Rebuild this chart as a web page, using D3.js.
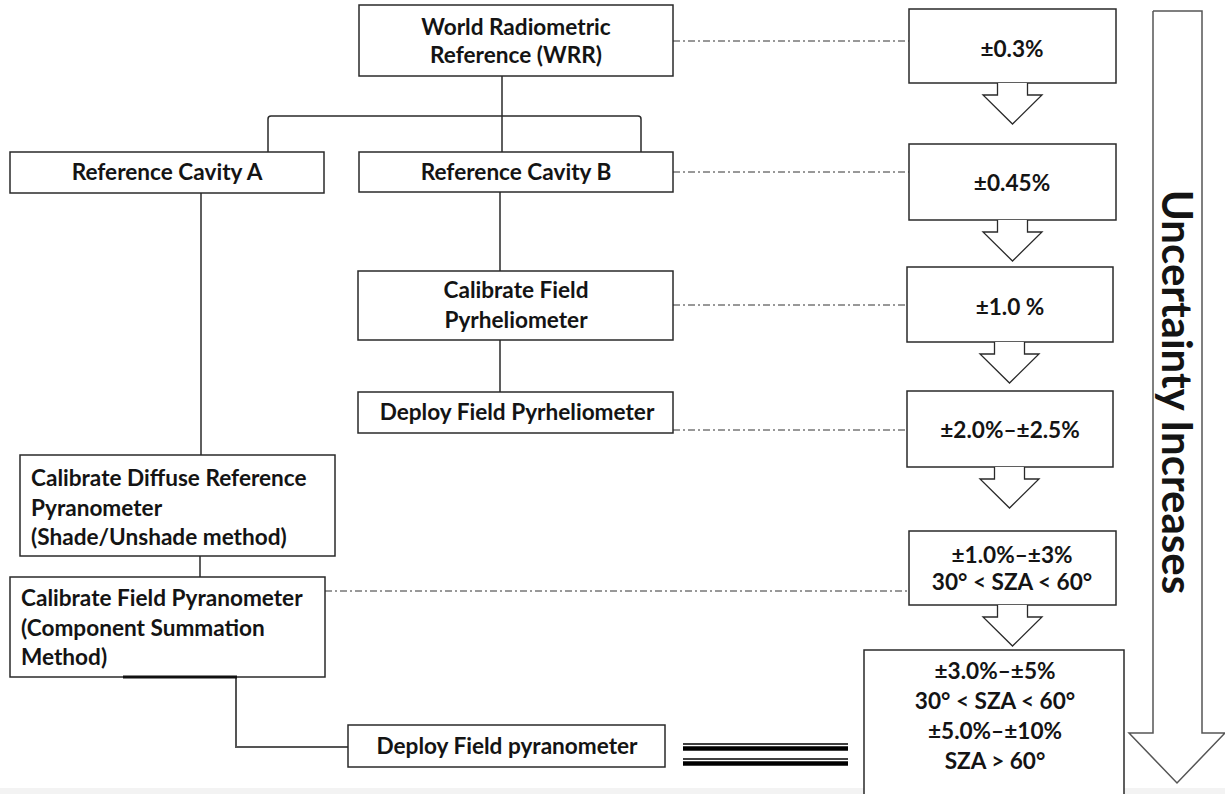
<!DOCTYPE html>
<html>
<head>
<meta charset="utf-8">
<script src="https://cdn.jsdelivr.net/npm/d3@7"></script>
<style>
  html, body { margin: 0; padding: 0; background: #fff; }
  svg { display: block; }
  text { font-family: Lato, "Open Sans", sans-serif; font-weight: 700; fill: #141414; }
</style>
</head>
<body>
<svg id="chart" width="1225" height="794"></svg>
<script>
// ---------- content ----------
const nodeLabels = [
  ["World Radiometric", "Reference (WRR)"],
  ["Reference Cavity A"],
  ["Reference Cavity B"],
  ["Calibrate Field", "Pyrheliometer"],
  ["Deploy Field Pyrheliometer"],
  ["Calibrate Diffuse Reference", "Pyranometer", "(Shade/Unshade method)"],
  ["Calibrate Field Pyranometer", "(Component Summation", "Method)"],
  ["Deploy Field pyranometer"]
];
const uncertaintyLabels = [
  ["±0.3%"],
  ["±0.45%"],
  ["±1.0 %"],
  ["±2.0%–±2.5%"],
  ["±1.0%–±3%", "30° < SZA < 60°"],
  ["±3.0%–±5%", "30° < SZA < 60°", "±5.0%–±10%", "SZA > 60°"]
];
const sideLabel = "Uncertainty Increases";
// which flow step links (dash-dot) to which uncertainty box
const links = [[0, 0], [2, 1], [3, 2], [4, 3], [6, 4]];

// ---------- layout ----------
const nodeBoxes = [
  {x: 359, y: 5,   w: 314, h: 71,  tx: 516, ty: 27,  lh: 28, anchor: "middle"},
  {x: 10,  y: 152, w: 314, h: 41,  tx: 167, ty: 172, lh: 28, anchor: "middle"},
  {x: 359, y: 152, w: 314, h: 40,  tx: 516, ty: 172, lh: 28, anchor: "middle"},
  {x: 358, y: 271, w: 315, h: 69,  tx: 516, ty: 290, lh: 30, anchor: "middle"},
  {x: 358, y: 392, w: 315, h: 41,  tx: 517, ty: 412, lh: 28, anchor: "middle"},
  {x: 20,  y: 455, w: 315, h: 101, tx: 31,  ty: 478, lh: 29.5, anchor: "start"},
  {x: 10,  y: 577, w: 315, h: 100, tx: 21,  ty: 598, lh: 29.5, anchor: "start"},
  {x: 348, y: 725, w: 317, h: 42,  tx: 507, ty: 746, lh: 28, anchor: "middle"}
];
const uncBoxes = [
  {x: 909, y: 9,   w: 207, h: 74,  tx: 1012, ty: 49,  lh: 28},
  {x: 909, y: 144, w: 207, h: 76,  tx: 1012, ty: 183, lh: 28},
  {x: 907, y: 267, w: 206, h: 75,  tx: 1010, ty: 307, lh: 28},
  {x: 907, y: 391, w: 206, h: 76,  tx: 1010, ty: 430, lh: 28},
  {x: 909, y: 531, w: 207, h: 74,  tx: 1012, ty: 555, lh: 27},
  {x: 864, y: 650, w: 260, h: 160, tx: 995,  ty: 671, lh: 30}
];
const dashY = [41, 172, 305, 430, 591];
const fontSize = 22.6;

const svg = d3.select("#chart");
const stroke = "#2a2a2a";

// light band at bottom of picture
svg.append("rect").attr("x", 0).attr("y", 788).attr("width", 1225).attr("height", 6).attr("fill", "#f3f3f3");

// ---------- connectors ----------
const conn = svg.append("g").attr("fill", "none").attr("stroke", stroke).attr("stroke-width", 1.5);
const b = nodeBoxes;
// WRR down to branch
conn.append("path").attr("d", d3.line()([[502, b[0].y + b[0].h], [502, b[2].y]]));
// branch to A and B (rounded corners)
conn.append("path").attr("d",
  `M268,${b[1].y} L268,119 Q268,116 271,116 L638,116 Q641,116 641,119 L641,${b[2].y}`);
// A down to diffuse
conn.append("path").attr("d", d3.line()([[201, b[1].y + b[1].h], [201, b[5].y]]));
// B down to calibrate pyrheliometer
conn.append("path").attr("d", d3.line()([[500, b[2].y + b[2].h], [500, b[3].y]]));
// calibrate -> deploy pyrheliometer
conn.append("path").attr("d", d3.line()([[500, b[3].y + b[3].h], [500, b[4].y]]));
// diffuse -> field pyranometer
conn.append("path").attr("d", d3.line()([[200, b[5].y + b[5].h], [200, b[6].y]]));
// field pyranometer -> deploy pyranometer
conn.append("path").attr("stroke", "#555").attr("stroke-width", 2)
  .attr("d", d3.line()([[236, b[6].y + b[6].h], [236, 747], [b[7].x, 747]]));

// dash-dot links
const dash = svg.append("g").attr("stroke", "#333").attr("stroke-width", 1).attr("stroke-dasharray", "7,3,2,3");
links.forEach(([n, u], i) => {
  dash.append("line")
    .attr("x1", b[n].x + b[n].w).attr("x2", uncBoxes[u].x)
    .attr("y1", dashY[i]).attr("y2", dashY[i]);
});

// ---------- boxes ----------
function drawBox(g, d, labels, anchor) {
  g.append("rect").attr("x", d.x).attr("y", d.y).attr("width", d.w).attr("height", d.h)
    .attr("fill", "#fff").attr("stroke", stroke).attr("stroke-width", 1.5);
  const t = g.append("text").attr("font-size", fontSize).attr("text-anchor", anchor);
  labels.forEach((s, i) => {
    t.append("tspan").attr("x", d.tx).attr("y", d.ty + i * d.lh).attr("dy", "0.36em").text(s);
  });
}
const nodesG = svg.append("g");
nodeLabels.forEach((lab, i) => drawBox(nodesG, nodeBoxes[i], lab, nodeBoxes[i].anchor));

// thick segment on bottom of field pyranometer box
svg.append("line").attr("x1", 123).attr("x2", 237).attr("y1", b[6].y + b[6].h).attr("y2", b[6].y + b[6].h)
  .attr("stroke", "#111").attr("stroke-width", 3);

// triple line (equals sign) toward final uncertainty box
const eqG = svg.append("g").attr("stroke", "#000");
[[744, 1.6], [748.5, 4.5], [759, 1.6], [763.5, 4.5]].forEach(([y, w]) => {
  eqG.append("line").attr("x1", 683).attr("x2", 848).attr("y1", y).attr("y2", y).attr("stroke-width", w);
});

// uncertainty boxes
const uncG = svg.append("g");
uncertaintyLabels.forEach((lab, i) => drawBox(uncG, uncBoxes[i], lab, "middle"));

// small block arrows between uncertainty boxes
const arrowG = svg.append("g").attr("fill", "#fff").attr("stroke", stroke).attr("stroke-width", 1.3);
for (let i = 0; i < uncBoxes.length - 1; i++) {
  const top = uncBoxes[i];
  const cx = Math.round(top.x + top.w / 2) - 0.5;
  const y0 = top.y + top.h, y1 = y0 + 12, tip = y1 + 29;
  arrowG.append("path").attr("d", d3.line()([
    [cx - 15, y0], [cx - 15, y1], [cx - 29.5, y1], [cx, tip],
    [cx + 29.5, y1], [cx + 15, y1], [cx + 15, y0]
  ]));
}

// big side arrow
svg.append("path").attr("fill", "#fff").attr("stroke", "#555").attr("stroke-width", 1.5)
  .attr("d", d3.line()([
    [1153, 11], [1202, 11], [1202, 733], [1225, 733], [1177, 783],
    [1129, 733], [1153, 733], [1153, 11]
  ]));
svg.append("text").attr("font-size", 42)
  .attr("text-anchor", "middle")
  .attr("transform", "translate(1177,392) rotate(90)")
  .attr("dy", "0.36em")
  .text(sideLabel);
</script>
</body>
</html>
